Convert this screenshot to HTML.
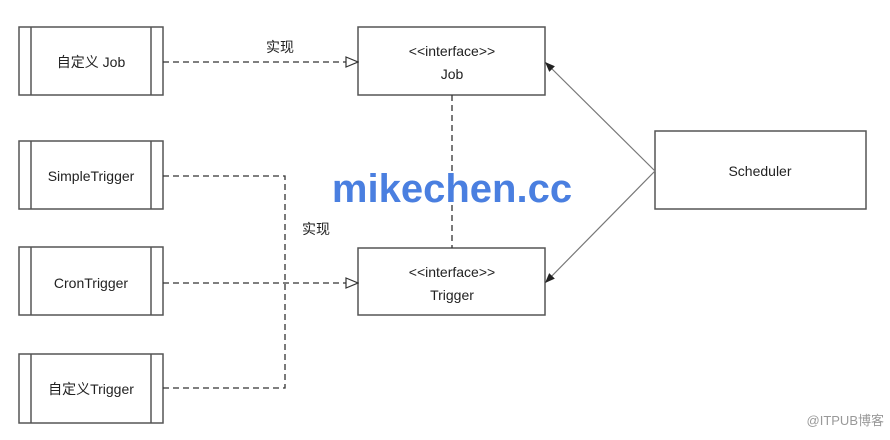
<!DOCTYPE html>
<html><head><meta charset="utf-8"><style>
html,body{margin:0;padding:0;background:#fff;}
svg text{font-family:"Liberation Sans","Noto Sans CJK SC",sans-serif;fill:#222;}
</style></head><body>
<svg width="890" height="435" viewBox="0 0 890 435" xmlns="http://www.w3.org/2000/svg">
<defs>
<marker id="hollow" markerWidth="14" markerHeight="14" refX="13" refY="6" orient="auto" markerUnits="userSpaceOnUse">
<path d="M1,1 L13,6 L1,11 Z" fill="#fff" stroke="#333" stroke-width="1.2"/></marker>
<marker id="solid" markerWidth="12" markerHeight="12" refX="10" refY="5" orient="auto" markerUnits="userSpaceOnUse">
<path d="M0,1 L10,5 L0,9 Z" fill="#222"/></marker>
</defs>
<g stroke="#555" stroke-width="1.5" fill="#fff">
<rect x="19" y="27" width="144" height="68"/><line x1="31" y1="27" x2="31" y2="95"/><line x1="151" y1="27" x2="151" y2="95"/>
<rect x="19" y="141" width="144" height="68"/><line x1="31" y1="141" x2="31" y2="209"/><line x1="151" y1="141" x2="151" y2="209"/>
<rect x="19" y="247" width="144" height="68"/><line x1="31" y1="247" x2="31" y2="315"/><line x1="151" y1="247" x2="151" y2="315"/>
<rect x="19" y="354" width="144" height="69"/><line x1="31" y1="354" x2="31" y2="423"/><line x1="151" y1="354" x2="151" y2="423"/>
<rect x="358" y="27" width="187" height="68"/>
<rect x="358" y="248" width="187" height="67"/>
<rect x="655" y="131" width="211" height="78"/>
</g>
<g stroke="#333" stroke-width="1.3" fill="none" stroke-dasharray="6,4">
<line x1="163" y1="62" x2="358" y2="62" marker-end="url(#hollow)"/>
<line x1="452" y1="95" x2="452" y2="248"/>
<polyline points="163,176 285,176 285,388 163,388"/>
<line x1="163" y1="283" x2="358" y2="283" marker-end="url(#hollow)"/>
</g>
<g stroke="#777" stroke-width="1.2">
<line x1="655" y1="171" x2="545" y2="62" marker-end="url(#solid)"/>
<line x1="655" y1="171" x2="545" y2="283" marker-end="url(#solid)"/>
</g>
<g font-size="14" text-anchor="middle">
<text x="91" y="67">自定义 Job</text>
<text x="91" y="181">SimpleTrigger</text>
<text x="91" y="288">CronTrigger</text>
<text x="91" y="394">自定义Trigger</text>
<text x="452" y="56">&lt;&lt;interface&gt;&gt;</text>
<text x="452" y="79">Job</text>
<text x="452" y="277">&lt;&lt;interface&gt;&gt;</text>
<text x="452" y="300">Trigger</text>
<text x="760" y="176">Scheduler</text>
<text x="280" y="52">实现</text>
<text x="316" y="234">实现</text>
</g>
<text x="452" y="202" text-anchor="middle" font-size="40" font-weight="bold" style="fill:#4a7fe0">mikechen.cc</text>
<text x="884" y="425" text-anchor="end" font-size="13" style="fill:#999">@ITPUB博客</text>
</svg>
</body></html>
